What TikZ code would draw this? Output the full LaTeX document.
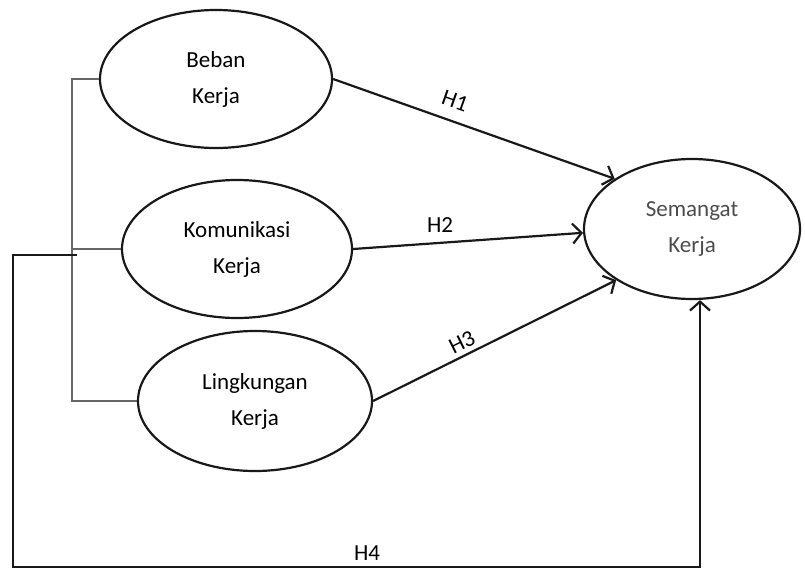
\documentclass[tikz,border=0pt]{standalone}
\usepackage{fontspec}
\setmainfont{Carlito}
\usetikzlibrary{shapes.geometric,arrows.meta}
\begin{document}
\begin{tikzpicture}[x=1pt,y=-1pt,
  var/.style={draw=black!90, line width=2.2pt, ellipse, align=center, inner sep=0pt,
    font=\fontsize{23}{36}\selectfont, text=black},
  arr/.style={draw=black!90, line width=2.2pt, -{Straight Barb[length=9pt,width=20pt,line width=2.2pt]}},
  brk/.style={draw=black!60, line width=1.5pt},
  hlab/.style={font=\fontsize{23}{28}\selectfont, text=black, inner sep=0pt}]
\useasboundingbox (0,0) rectangle (805,570);
\node[var, minimum width=232pt, minimum height=138pt] (beb) at (216,79) {Beban\\Kerja};
\node[var, minimum width=230pt, minimum height=138pt] (kom) at (237,249) {Komunikasi\\Kerja};
\node[var, minimum width=234pt, minimum height=140pt] (lin) at (255,401) {Lingkungan\\Kerja};
\node[var, minimum width=216pt, minimum height=140pt, text=black!70] (sem) at (692,229) {Semangat\\Kerja};
% gray bracket
\coordinate (bx) at (72,0);
\draw[brk] (beb.west) -- (beb.west -| bx) -- (lin.west -| bx) -- (lin.west);
\draw[brk] (kom.west -| bx) -- (kom.west);
% paths
\draw[arr] (beb.east) -- (sem.147);
\draw[arr] (kom.east) -- (sem.182);
\draw[arr] (lin.east) -- (sem.214);
\coordinate (j) at (77,255);
\coordinate (c1) at (13,255);
\coordinate (c2) at (700,567);
\draw[arr] (j) -- (c1) |- (c2) -- (c2 |- sem.south);
% labels
\node[hlab, rotate=-19.4] (h1) at (455,101) {H1};
\node[hlab] (h2) at (440,225) {H2};
\node[hlab, rotate=26.4] (h3) at (462,342) {H3};
\node[hlab] (h4) at (367,553) {H4};
\end{tikzpicture}
\end{document}
